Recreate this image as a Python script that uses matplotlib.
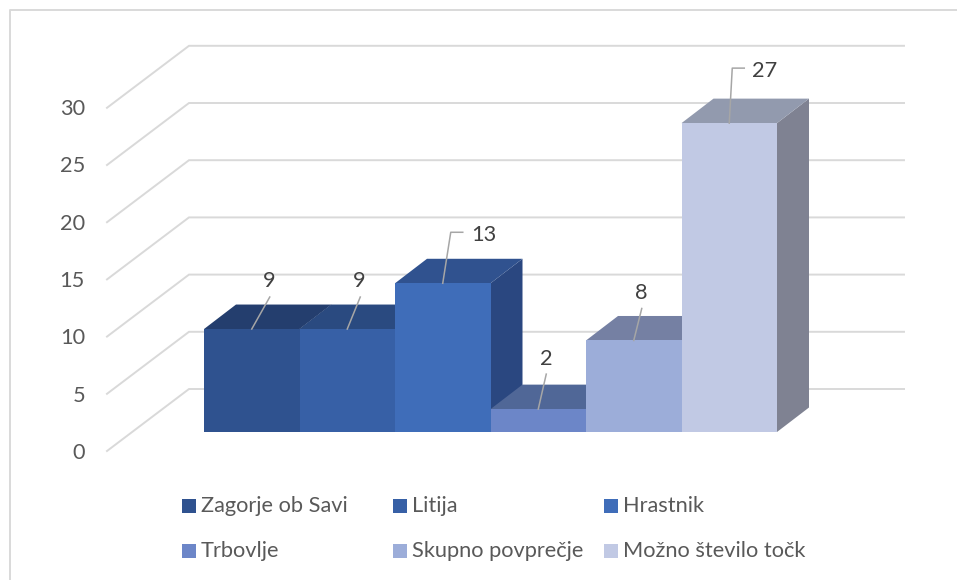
import matplotlib
matplotlib.use('Agg')
import matplotlib.pyplot as plt
from matplotlib.patches import Polygon, Rectangle
from matplotlib.transforms import Affine2D

plt.rcParams['font.family'] = ['Lato', 'DejaVu Sans']

# Data
categories = ['Zagorje ob Savi', 'Litija', 'Hrastnik', 'Trbovlje', 'Skupno povprečje', 'Možno število točk']
values = [9, 9, 13, 2, 8, 27]
y_ticks = [0, 5, 10, 15, 20, 25, 30]

# Colours for each bar
front_colors = ['#2F528F', '#3760A6', '#3F6DB9', '#6C86C8', '#9CADD9', '#C1C9E4']
top_colors = ['#243E6E', '#2A4A80', '#30528F', '#506797', '#7580A3', '#929AAE']
side_colors = ['#243E6E', '#2A4A80', '#2A4780', '#506797', '#6F7A98', '#7F8292']
grid_color = '#D9D9D9'

# Pixel scale of the front plane
W, H = 957, 580
px_per_bar = 95.5
px_per_unit = 11.44
bar_left_px = 204
base_px = 432

# Depth of the bars and of the chart walls, in data units
bar_dx = 32 / px_per_bar
bar_dy = 24.5 / px_per_unit
wall_front_x = (107 - bar_left_px) / px_per_bar - 0.5
wall_back_x = (189 - bar_left_px) / px_per_bar - 0.5
wall_right_x = (904 - bar_left_px) / px_per_bar - 0.5
wall_front_y = (base_px - 451) / px_per_unit
wall_back_y = (base_px - 389) / px_per_unit

fig = plt.figure(figsize=(W / 100, H / 100), dpi=100)
ax = fig.add_axes([0, 0, 1, 1])
ax.set_xlim(-bar_left_px / px_per_bar - 0.5, (W - bar_left_px) / px_per_bar - 0.5)
ax.set_ylim((base_px - H) / px_per_unit, base_px / px_per_unit)
ax.axis('off')

# Transform for layout items given in picture pixels (y going down)
px = Affine2D().scale(1 / W, -1 / H).translate(0, 1) + fig.transFigure

# Chart frame, only the top and left edges are in the picture
ax.plot([10, 10, W], [H, 10, 10], color=grid_color, lw=1.4, transform=px, zorder=1)

# Gridlines on side wall and back wall
for t in y_ticks:
    ax.plot([wall_front_x, wall_back_x, wall_right_x],
            [t + wall_front_y, t + wall_back_y, t + wall_back_y],
            color=grid_color, lw=1.4, solid_joinstyle='miter', zorder=1)
    ax.text(85, 453 - t * 11.47, str(t), transform=px, ha='right', va='center',
            fontsize=15.7, color='#595959')

# Bars, left to right so each front covers the previous top and side
z = 2
for i, v in enumerate(values):
    x0, x1 = i - 0.5, i + 0.5
    side = [(x1, 0), (x1 + bar_dx, bar_dy), (x1 + bar_dx, v + bar_dy), (x1, v)]
    top = [(x0, v), (x1, v), (x1 + bar_dx, v + bar_dy), (x0 + bar_dx, v + bar_dy)]
    ax.add_patch(Polygon(side, facecolor=side_colors[i], edgecolor='none', zorder=z))
    ax.add_patch(Polygon(top, facecolor=top_colors[i], edgecolor='none', zorder=z))
    ax.bar(i, v, width=1, color=front_colors[i], zorder=z + 0.5)
    z += 1

# Data labels with leader lines: leader points and label centre, in pixels from the bar top centre
leaders = [
    [(0, 0), (18, -32)],
    [(0, 0), (13, -32)],
    [(0, 0), (8, -51), (20, -51)],
    [(0, 0), (8, -35)],
    [(0, 0), (8, -32)],
    [(0, 0), (3, -55), (15, -55)],
]
label_offsets = [(17, -48), (12, -48), (41, -48), (8, -50), (8, -47), (35, -52)]
for i, v in enumerate(values):
    cx = bar_left_px + px_per_bar * (i + 0.5)
    cy = base_px - v * px_per_unit
    ax.plot([cx + p[0] for p in leaders[i]], [cy + p[1] for p in leaders[i]],
            color='#A6A6A6', lw=1.1, transform=px, zorder=20)
    ax.text(cx + label_offsets[i][0], cy + label_offsets[i][1], str(v), transform=px,
            ha='center', va='center', fontsize=15.7, color='#404040', zorder=21)

# Legend laid out in two rows of three
legend_x = [182, 393, 604]
legend_y = [506, 551]
for i, name in enumerate(categories):
    lx = legend_x[i % 3]
    ly = legend_y[i // 3]
    ax.add_patch(Rectangle((lx, ly - 7), 14, 14, facecolor=front_colors[i], edgecolor='none',
                           transform=px, zorder=5))
    ax.text(lx + 19, ly, name, transform=px, ha='left', va='center', fontsize=15.7,
            color='#595959')

fig.savefig('out.png', dpi=100)
